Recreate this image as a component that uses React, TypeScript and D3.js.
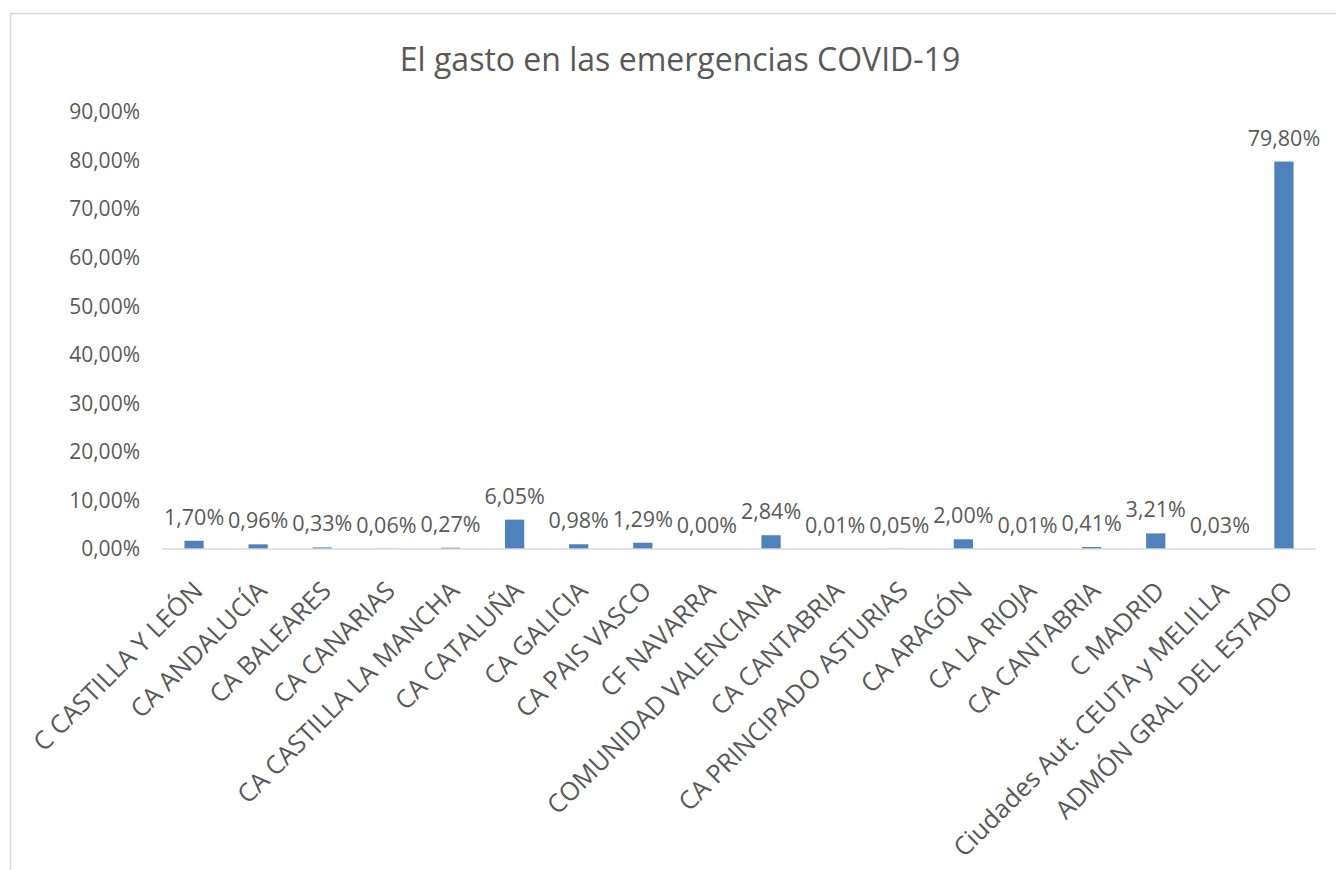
import React from "react";
import * as d3 from "d3";

const categories = [
  "C CASTILLA Y LEÓN",
  "CA ANDALUCÍA",
  "CA BALEARES",
  "CA CANARIAS",
  "CA CASTILLA LA MANCHA",
  "CA CATALUÑA",
  "CA GALICIA",
  "CA PAIS VASCO",
  "CF NAVARRA",
  "COMUNIDAD VALENCIANA",
  "CA CANTABRIA",
  "CA PRINCIPADO ASTURIAS",
  "CA ARAGÓN",
  "CA LA RIOJA",
  "CA CANTABRIA ",
  "C MADRID",
  "Ciudades Aut. CEUTA y MELILLA",
  "ADMÓN GRAL DEL ESTADO",
];

const values = [1.7, 0.96, 0.33, 0.06, 0.27, 6.05, 0.98, 1.29, 0.0, 2.84, 0.01, 0.05, 2.0, 0.01, 0.41, 3.21, 0.03, 79.8];

const yTicks = [0, 10, 20, 30, 40, 50, 60, 70, 80, 90];

const title = "El gasto en las emergencias COVID-19";

const W = 1336;
const H = 870;
const FONT = "'Open Sans', 'Noto Sans', sans-serif";
const TEXT = "#595959";

const fmt = (v: number) => v.toFixed(2).replace(".", ",") + "%";

export default function App() {
  const x = d3.scaleBand<string>().domain(categories).range([162, 1316]).paddingInner(0.7).paddingOuter(0.35);
  const y = d3.scaleLinear().domain([0, 90]).range([549, 112]);

  return (
    <svg width={W} height={H} style={{ position: "absolute", left: 0, top: 0, display: "block", background: "#fff" }} fontFamily={FONT}>
      <rect x={10.5} y={13.5} width={1400} height={900} fill="#fff" stroke="#d9d9d9" strokeWidth={1.5} />
      <text x={680} y={71} textAnchor="middle" fontSize={32} fill={TEXT}>{title}</text>
      {yTicks.map((t) => (
        <text key={t} x={140} y={y(t)} dy="0.35em" textAnchor="end" fontSize={21} fill={TEXT}>{fmt(t)}</text>
      ))}
      {categories.map((c, i) => (
        <rect key={"b" + i} x={x(c)} y={y(values[i])} width={x.bandwidth()} height={y(0) - y(values[i])} fill="#4F81BD" />
      ))}
      <line x1={162} x2={1316} y1={y(0)} y2={y(0)} stroke="#d9d9d9" strokeWidth={1.5} />
      {categories.map((c, i) => (
        <text key={"l" + i} x={(x(c) as number) + x.bandwidth() / 2} y={y(values[i]) - 16} textAnchor="middle" fontSize={21.5} fill={TEXT}>{fmt(values[i])}</text>
      ))}
      {categories.map((c, i) => {
        const cx = (x(c) as number) + x.bandwidth() / 2;
        return (
          <text key={"c" + i} transform={`translate(${cx + 4},${586}) rotate(-45)`} dy="0.35em" textAnchor="end" fontSize={25.5} fill={TEXT}>{c.trim()}</text>
        );
      })}
    </svg>
  );
}
